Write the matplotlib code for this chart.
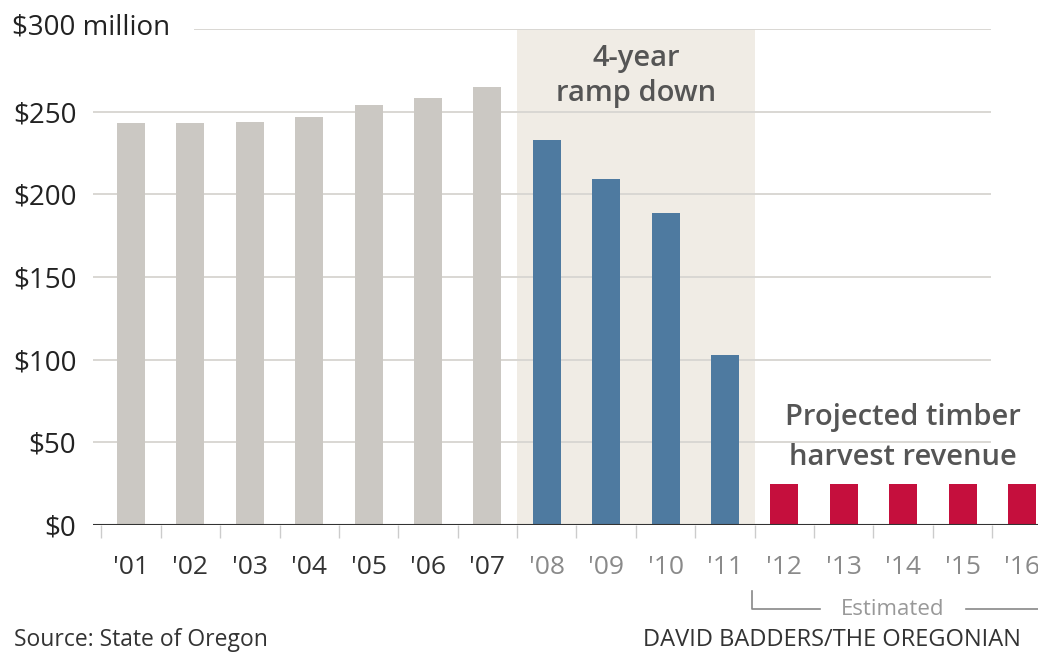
import matplotlib
matplotlib.use("Agg")
import matplotlib.pyplot as plt
import numpy as np

years = ["'01", "'02", "'03", "'04", "'05", "'06", "'07", "'08", "'09", "'10",
         "'11", "'12", "'13", "'14", "'15", "'16"]
revenue = [243, 243, 244, 247, 254, 258, 265, 233, 209, 189, 103, 25, 25, 25, 25, 25]
period = ["past"] * 7 + ["ramp"] * 4 + ["proj"] * 5
yticks = [0, 50, 100, 150, 200, 250, 300]
ytick_labels = ["$0", "$50", "$100", "$150", "$200", "$250", "$300 million"]

colors = {"past": "#cbc8c3", "ramp": "#4e7aa0", "proj": "#c50f3d"}
plt.rcParams['font.family'] = ['Open Sans', 'DejaVu Sans']

fig = plt.figure(figsize=(10.38, 6.56), dpi=100)
ax = fig.add_axes([93/1038, 1 - 525/656, 1 - 93/1038, (525 - 29)/656])

x = np.arange(len(years))
ax.set_xlim(-0.64, 15.27)
ax.set_ylim(0, 300)

# shaded ramp-down region
ramp_idx = [i for i, p in enumerate(period) if p == "ramp"]
ax.axvspan(ramp_idx[0] - 0.5, ramp_idx[-1] + 0.5, color="#f0ece5", zorder=0, lw=0)

# gridlines
for t in yticks[1:]:
    xs = 0.0 if t != 300 else (195 - 93) / (1038 - 93)
    ax.axhline(t, xmin=xs, xmax=(990 - 93) / (1038 - 93), color="#d9d7d3", lw=1.4, zorder=1)

ax.bar(x, revenue, width=0.47, color=[colors[p] for p in period], zorder=2)
ax.axhline(0, color="#333333", lw=1.5, zorder=3)

for s in ax.spines.values():
    s.set_visible(False)

ax.set_yticks(yticks[:-1])
ax.set_yticklabels(ytick_labels[:-1], fontsize=20, color="#222222")
ax.tick_params(axis="y", length=0, pad=12)
fig.text(12/1038, 1 - 27/656, ytick_labels[-1], fontsize=20, color="#222222",
         va="center", ha="left")

ax.set_xticks(x - 0.5, minor=False)
ax.set_xticklabels([])
ax.tick_params(axis="x", length=9, color="#cccccc", width=1, direction="out")
for i, lab in enumerate(years):
    c = "#333333" if period[i] == "past" else "#8a8a8a"
    ax.text(i, -26, lab, ha="center", va="center", fontsize=19, color=c)

ax.text(np.mean(ramp_idx), 282, "4-year", ha="center", va="center",
        fontsize=21, color="#555555", fontweight="semibold")
ax.text(np.mean(ramp_idx), 261, "ramp down", ha="center", va="center",
        fontsize=21, color="#555555", fontweight="semibold")

ax.text(13.0, 65, "Projected timber", ha="center", va="center",
        fontsize=21, color="#555555", fontweight="semibold")
ax.text(13.0, 41, "harvest revenue", ha="center", va="center",
        fontsize=21, color="#555555", fontweight="semibold")

# Estimated bracket
ax.plot([10.45, 10.45, 11.6], [-40, -51, -51], color="#888888", lw=1.2, clip_on=False)
ax.plot([14.05, 15.3], [-51, -51], color="#888888", lw=1.2, clip_on=False)
ax.text(12.82, -51, "Estimated", ha="center", va="center", fontsize=16, color="#999999")

fig.text(14/1038, 1 - 640/656, "Source: State of Oregon", fontsize=16.5,
         color="#333333", va="center", ha="left")
fig.text(643/1038, 1 - 640/656, "DAVID BADDERS/THE OREGONIAN", fontsize=17,
         color="#333333", va="center", ha="left")

fig.savefig("out.png", dpi=100)
